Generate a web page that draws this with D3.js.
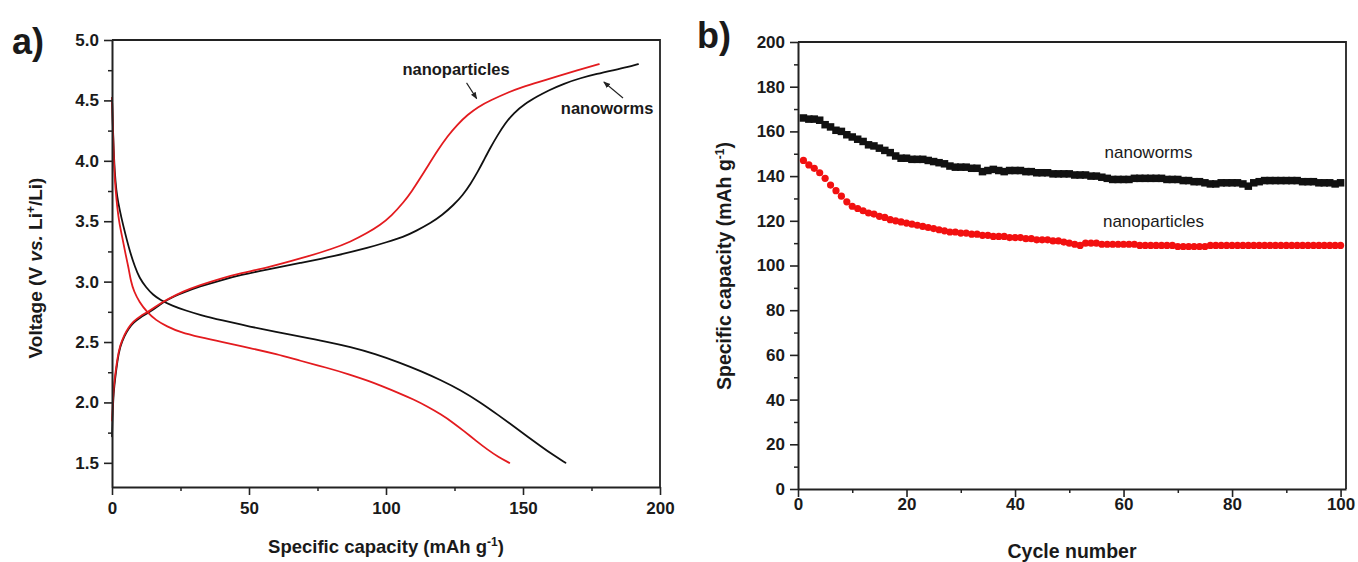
<!DOCTYPE html>
<html>
<head>
<meta charset="utf-8">
<script src="https://cdn.jsdelivr.net/npm/d3@7"></script>
<style>
  html, body { margin: 0; padding: 0; background: #fff; }
  svg { display: block; }
  text { font-family: "Liberation Sans", Arial, sans-serif; fill: #1a1a1a; }
</style>
</head>
<body>
<svg id="chart" width="1358" height="562"></svg>
<script>
// ---------------- DATA ----------------
// Panel a) voltage profiles: [specific capacity (mAh/g), voltage (V)]
const wormsDischarge = [[0,4.52],[0.3,4.3],[0.6,4.1],[1.0,3.9],[1.6,3.75],[2.2,3.66],[3.5,3.52],[4.8,3.40],[6.5,3.25],[8.4,3.12],[10,3.03],[12.5,2.95],[15,2.89],[17.5,2.85],[22,2.80],[27,2.76],[32,2.725],[40,2.68],[50.5,2.627],[60,2.582],[68.7,2.545],[78,2.505],[87,2.46],[96,2.403],[105,2.33],[113,2.257],[120,2.185],[127,2.105],[134.5,2.0],[141,1.895],[146.6,1.802],[152,1.712],[156.5,1.637],[161,1.565],[165.5,1.50]];
const particlesDischarge = [[0,4.52],[0.3,4.3],[0.6,4.05],[1.0,3.85],[1.6,3.68],[2.5,3.50],[3.9,3.35],[5,3.22],[6,3.12],[6.9,3.0],[8,2.92],[10,2.83],[12.7,2.75],[16,2.68],[20,2.63],[25,2.58],[32,2.54],[40,2.50],[50.5,2.45],[60,2.40],[68.7,2.345],[78,2.29],[87,2.23],[94,2.175],[98,2.14],[105,2.075],[110,2.025],[115,1.968],[120,1.902],[124.5,1.833],[128.5,1.762],[133,1.68],[137,1.61],[141,1.548],[145,1.50]];
const wormsCharge = [[0,1.72],[0.3,1.95],[0.6,2.08],[1.1,2.19],[2,2.35],[2.9,2.46],[4.5,2.55],[6,2.61],[7.8,2.66],[10,2.70],[13.9,2.75],[17,2.80],[20,2.85],[26,2.91],[32,2.96],[39.5,3.01],[47,3.055],[56.6,3.10],[68.7,3.155],[81,3.21],[94.3,3.285],[100,3.325],[106.4,3.37],[111,3.42],[116.3,3.485],[120.5,3.55],[124.7,3.635],[128,3.715],[130.9,3.81],[133.5,3.91],[135.6,4.0],[138,4.105],[140.8,4.215],[143.5,4.31],[146.6,4.395],[150.5,4.47],[155.4,4.535],[159,4.58],[165,4.64],[171,4.685],[177,4.72],[183,4.75],[188,4.775],[192,4.80]];
const particlesCharge = [[0,1.85],[0.3,2.0],[0.6,2.12],[1.1,2.22],[2,2.37],[2.9,2.47],[4.5,2.56],[6,2.62],[7.8,2.67],[10,2.71],[13.9,2.76],[17,2.81],[20,2.85],[26,2.92],[32,2.97],[39.5,3.025],[47,3.07],[56.6,3.115],[68.7,3.19],[81,3.275],[87,3.33],[93,3.40],[98,3.47],[102,3.545],[106.4,3.655],[109.5,3.75],[112.6,3.86],[115.5,3.965],[118.8,4.085],[122.5,4.205],[126,4.30],[130,4.385],[133.5,4.445],[138,4.50],[145.5,4.575],[149,4.605],[156,4.655],[162.7,4.70],[170,4.75],[177.7,4.80]];

// Panel b) cycling: capacity per cycle, cycles 1..100
const cycles = d3.range(1, 101);
const wormsCycling = [166,165.5,165.5,165,163,162,160.5,160,158.5,157.5,
  156.5,155.5,154,153.5,152.5,151.5,150.5,149,148,148,
  147.5,147.5,147.5,147,146.5,146,145.5,144.5,144,144,
  144,143.5,143.5,142,142.5,143,142.5,142,142.5,142.5,
  142.5,142,142,141.5,141.5,141.5,141,141,141,141,
  140.5,140.5,140.5,140,140,139.5,139,138.5,138.5,138.5,
  138.5,139,139,139,139,139,139,138.5,138.5,138.5,
  138,138,137.5,137.5,137,136.5,136.5,137,137,137,
  137,136.5,135.5,137,137.5,138,138,138,138,138,
  138,138,137.5,137.5,137.5,137,137,137,136.5,137];
const particlesCycling = [147,145,143.5,141.5,139,136,133.5,131,128.5,126.5,
  125.5,124.5,123.5,123,122,121.5,120.5,120,119.5,119,
  118.5,118,117.5,117,116.5,116,115.5,115,115,114.5,
  114.5,114,114,113.5,113.5,113,113,113,112.5,112.5,
  112.5,112,112,111.5,111.5,111.5,111,111,110.5,110,
  109.5,109,110,110,110,109.5,109.5,109.5,109.5,109.5,
  109.5,109.5,109,109,109,109,109,109,109,108.5,
  108.5,108.5,108.5,108.5,108.5,109,109,109,109,109,
  109,109,109,109,109,109,109,109,109,109,
  109,109,109,109,109,109,109,109,109,109];

// tick values
const aXTicks = [0, 50, 100, 150, 200];
const aXMinor = [25, 75, 125, 175];
const aYTicks = [1.5, 2.0, 2.5, 3.0, 3.5, 4.0, 4.5, 5.0];
const aYMinor = [1.75, 2.25, 2.75, 3.25, 3.75, 4.25, 4.75];
const bXTicks = [0, 20, 40, 60, 80, 100];
const bXMinor = [10, 30, 50, 70, 90];
const bYTicks = [0, 20, 40, 60, 80, 100, 120, 140, 160, 180, 200];
const bYMinor = [10, 30, 50, 70, 90, 110, 130, 150, 170, 190];

// ---------------- DRAW ----------------
const svg = d3.select("#chart");
const BLACK = "#111";
const RED = "#e31b1f";
const DOTRED = "#f21010";
const AX = "#222";

function frame(g, x, y) {
  const [x0, x1] = x.range();
  const [y0, y1] = y.range();
  g.append("path")
    .attr("d", `M${x0},${y1}H${x1}V${y0}`)
    .attr("fill", "none").attr("stroke", AX).attr("stroke-width", 1.8);
}

function styleAxis(sel) {
  sel.select(".domain").attr("stroke", AX).attr("stroke-width", 2);
  sel.selectAll(".tick line").attr("stroke", AX).attr("stroke-width", 1.6);
  sel.selectAll("text")
    .attr("font-family", "'Liberation Sans', Arial, sans-serif")
    .attr("font-weight", "bold").attr("font-size", 17).attr("fill", "#1a1a1a");
}

function drawAxes(g, x, y, xt, xm, yt, ym, fmtX, fmtY, xPad, yPad) {
  const yb = y.range()[0], xl = x.range()[0];
  g.append("g").attr("transform", `translate(0,${yb})`)
    .call(d3.axisBottom(x).tickValues(xm).tickSize(4).tickFormat(""))
    .call(s => { s.select(".domain").remove(); s.selectAll("line").attr("stroke", AX).attr("stroke-width", 1.5); });
  g.append("g").attr("transform", `translate(${xl},0)`)
    .call(d3.axisLeft(y).tickValues(ym).tickSize(4).tickFormat(""))
    .call(s => { s.select(".domain").remove(); s.selectAll("line").attr("stroke", AX).attr("stroke-width", 1.5); });
  g.append("g").attr("transform", `translate(0,${yb})`)
    .call(d3.axisBottom(x).tickValues(xt).tickSize(8).tickSizeOuter(0).tickPadding(xPad).tickFormat(fmtX))
    .call(styleAxis);
  g.append("g").attr("transform", `translate(${xl},0)`)
    .call(d3.axisLeft(y).tickValues(yt).tickSize(8).tickSizeOuter(0).tickPadding(yPad).tickFormat(fmtY))
    .call(styleAxis);
}

// ---------- Panel a ----------
const xA = d3.scaleLinear().domain([0, 200]).range([112, 660]);
const yA = d3.scaleLinear().domain([1.3, 5.0]).range([487, 40]);
const gA = svg.append("g");

const lineA = d3.line().x(d => xA(d[0])).y(d => yA(d[1])).curve(d3.curveBasis);
[[wormsDischarge, BLACK], [wormsCharge, BLACK], [particlesDischarge, RED], [particlesCharge, RED]]
  .forEach(([data, c]) => {
    gA.append("path").datum(data).attr("d", lineA)
      .attr("fill", "none").attr("stroke", c).attr("stroke-width", 1.8)
      .attr("stroke-linejoin", "round").attr("stroke-linecap", "round");
  });

frame(gA, xA, yA);
drawAxes(gA, xA, yA, aXTicks, aXMinor, aYTicks, aYMinor, d3.format("d"), d3.format(".1f"), 7, 5);

const defs = svg.append("defs");
defs.append("marker").attr("id", "arr").attr("viewBox", "0 0 10 10")
  .attr("refX", 9).attr("refY", 5).attr("markerWidth", 7).attr("markerHeight", 7)
  .attr("orient", "auto-start-reverse").attr("markerUnits", "userSpaceOnUse")
  .append("path").attr("d", "M0,1 L10,5 L0,9 Z").attr("fill", "#222");

const annA = [
  {text: "nanoparticles", x: 106, y: 4.71, ax1: 129.4, ay1: 4.645, ax2: 133.1, ay2: 4.515},
  {text: "nanoworms", x: 163.8, y: 4.385, ax1: 186.5, ay1: 4.52, ax2: 179.5, ay2: 4.652}
];
annA.forEach(a => {
  gA.append("text").attr("x", xA(a.x)).attr("y", yA(a.y))
    .attr("font-weight", "bold").attr("font-size", 16.5).text(a.text);
  gA.append("line").attr("x1", xA(a.ax1)).attr("y1", yA(a.ay1))
    .attr("x2", xA(a.ax2)).attr("y2", yA(a.ay2))
    .attr("stroke", "#222").attr("stroke-width", 1.1).attr("marker-end", "url(#arr)");
});

gA.append("text").attr("x", 386).attr("y", 553).attr("text-anchor", "middle")
  .attr("font-weight", "bold").attr("font-size", 18.5)
  .call(t => {
    t.append("tspan").text("Specific capacity (mAh g");
    t.append("tspan").attr("dy", -7).attr("font-size", 12).text("-1");
    t.append("tspan").attr("dy", 7).text(")");
  });
gA.append("text").attr("transform", "translate(42,268) rotate(-90)").attr("text-anchor", "middle")
  .attr("font-weight", "bold").attr("font-size", 19)
  .call(t => {
    t.append("tspan").text("Voltage (V ");
    t.append("tspan").attr("font-style", "italic").text("vs.");
    t.append("tspan").text(" Li");
    t.append("tspan").attr("dy", -7).attr("font-size", 12).text("+");
    t.append("tspan").attr("dy", 7).text("/Li)");
  });
gA.append("text").attr("x", 12).attr("y", 54).attr("font-weight", "bold").attr("font-size", 36).text("a)");

// ---------- Panel b ----------
const xB = d3.scaleLinear().domain([0, 101]).range([798, 1346]);
const yB = d3.scaleLinear().domain([0, 200]).range([489, 42]);
const gB = svg.append("g");

frame(gB, xB, yB);
drawAxes(gB, xB, yB, bXTicks, bXMinor, bYTicks, bYMinor, d3.format("d"), d3.format("d"), 1, 5);

const sq = 7.5;
gB.append("g").selectAll("rect").data(cycles).join("rect")
  .attr("x", c => xB(c) - sq / 2).attr("y", (c, i) => yB(wormsCycling[i]) - sq / 2)
  .attr("width", sq).attr("height", sq).attr("fill", BLACK);
gB.append("g").selectAll("circle").data(cycles).join("circle")
  .attr("cx", c => xB(c)).attr("cy", (c, i) => yB(particlesCycling[i]))
  .attr("r", 3.6).attr("fill", DOTRED);

const annB = [
  {text: "nanoworms", x: 56.5, y: 148.1},
  {text: "nanoparticles", x: 56.2, y: 117.2}
];
annB.forEach(a => {
  gB.append("text").attr("x", xB(a.x)).attr("y", yB(a.y)).attr("font-size", 17).text(a.text);
});

gB.append("text").attr("x", 1072).attr("y", 558).attr("text-anchor", "middle")
  .attr("font-weight", "bold").attr("font-size", 19.5).text("Cycle number");
gB.append("text").attr("transform", "translate(731,266) rotate(-90)").attr("text-anchor", "middle")
  .attr("font-weight", "bold").attr("font-size", 19.5)
  .call(t => {
    t.append("tspan").text("Specific capacity (mAh g");
    t.append("tspan").attr("dy", -7).attr("font-size", 12).text("-1");
    t.append("tspan").attr("dy", 7).text(")");
  });
gB.append("text").attr("x", 697).attr("y", 48).attr("font-weight", "bold").attr("font-size", 36).text("b)");
</script>
</body>
</html>
